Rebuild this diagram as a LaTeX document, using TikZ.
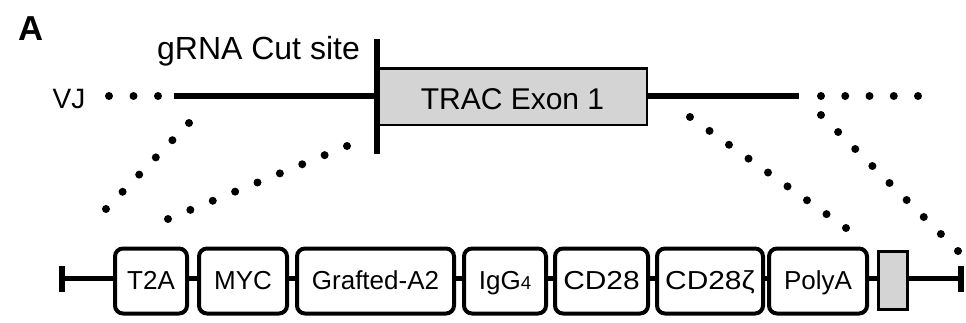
\documentclass[tikz,border=0pt]{standalone}
\usepackage{fontspec}
\setmainfont{Liberation Sans}
\newfontfamily\widesans[FakeStretch=1.15]{Liberation Sans}
\usetikzlibrary{calc}
\definecolor{exongray}{RGB}{212,212,212}
\newcommand{\dotrow}[3]{%
  \foreach \k in {0,...,#3} {\fill ($(#1)!{\k/#3}!(#2)$) circle[radius=3pt];}}
\begin{document}
\begin{tikzpicture}[x=0.75pt,y=-0.75pt,
  dnaline/.style={line width=3.8pt},
  cutline/.style={line width=5pt},
  endbar/.style={line width=5pt},
  exon/.style={draw, line width=1.9pt, fill=exongray, inner sep=0pt,
    minimum width=201.4pt, minimum height=42.4pt},
  bigtext/.style={inner sep=0pt, font=\fontsize{22.5pt}{26pt}\selectfont},
  part/.style={draw, line width=3pt, rounded corners=6pt, fill=white,
    inner sep=0pt, minimum height=48.75pt, text height=13.5pt, text depth=1.5pt,
    font=\fontsize{19.5pt}{22pt}\selectfont},
  smallexon/.style={draw, line width=2.2pt, fill=exongray, inner sep=0pt,
    minimum width=21.75pt, minimum height=43.5pt},
]
\useasboundingbox (0,0) rectangle (966,322);

% panel letter
\node[inner sep=0pt, anchor=base west, font=\bfseries\fontsize{26pt}{30pt}\selectfont] (panel) at (18,40) {A};

% top locus
\node[bigtext, anchor=base, font=\fontsize{24pt}{28pt}\selectfont] (grna) at (258.5,59) {gRNA Cut site};
\node[bigtext, anchor=base, font=\fontsize{21pt}{24pt}\selectfont] (vj) at (69,108) {VJ};
\node[exon] (trac) at (512.5,96.5) {};
\node[bigtext, anchor=base] (tractext) at (512.5,109) {TRAC Exon 1};
\coordinate (cutT) at (377,39);
\coordinate (cutB) at (377,154);
\coordinate (lstart) at (174,96);
\coordinate (rend) at (799,96);
\draw[dnaline] (lstart) -- (trac.west |- lstart);
\draw[dnaline] (trac.east |- rend) -- (rend);
\draw[cutline] (cutT) -- (cutB);

% dotted continuations
\coordinate (vja) at (109,96);  \coordinate (vjb) at (158,96);
\coordinate (rta) at (821,96);  \coordinate (rtb) at (918,96);
\dotrow{vja}{vjb}{2}
\dotrow{rta}{rtb}{4}

% zoom lines
\coordinate (loa) at (189,123); \coordinate (lob) at (106,209);
\coordinate (lia) at (347,146); \coordinate (lib) at (168,219);
\coordinate (ria) at (690,117); \coordinate (rib) at (846,228);
\coordinate (roa) at (821,115); \coordinate (rob) at (958,251);
\dotrow{loa}{lob}{5}
\dotrow{lia}{lib}{8}
\dotrow{ria}{rib}{8}
\dotrow{roa}{rob}{8}

% construct
\coordinate (barL) at (62,278.5);
\coordinate (barR) at (961,278.5);
\node[part, minimum width=54pt] (t2a) at (151,281) {T2A};
\node[part, minimum width=66pt] (myc) at (243,281) {MYC};
\node[part, minimum width=117.75pt] (graft) at (375.5,281) {Grafted-A2};
\node[part, minimum width=61.5pt] (igg) at (505,281) {IgG{\fontsize{14pt}{16pt}\selectfont 4}};
\node[part, minimum width=69.75pt] (cd28) at (601.5,281) {\widesans CD28};
\node[part, minimum width=79.5pt] (cdz) at (710,281) {\widesans CD28ζ};
\node[part, minimum width=73.5pt] (polya) at (818,281) {PolyA};
\node[smallexon] (gbox) at (893,280.5) {};

\draw[dnaline] (barL) -- (t2a.west |- barL);
\draw[dnaline] (t2a.east |- barL) -- (myc.west |- barL);
\draw[dnaline] (myc.east |- barL) -- (graft.west |- barL);
\draw[dnaline] (graft.east |- barL) -- (igg.west |- barL);
\draw[dnaline] (igg.east |- barL) -- (cd28.west |- barL);
\draw[dnaline] (cd28.east |- barL) -- (cdz.west |- barL);
\draw[dnaline] (cdz.east |- barL) -- (polya.west |- barL);
\draw[dnaline] (polya.east |- barL) -- (gbox.west |- barL);
\draw[dnaline] (gbox.east |- barR) -- (barR);
\draw[endbar] ($(barL)+(0,-13)$) -- ($(barL)+(0,13)$);
\draw[endbar] ($(barR)+(0,-13)$) -- ($(barR)+(0,13)$);
\end{tikzpicture}
\end{document}
